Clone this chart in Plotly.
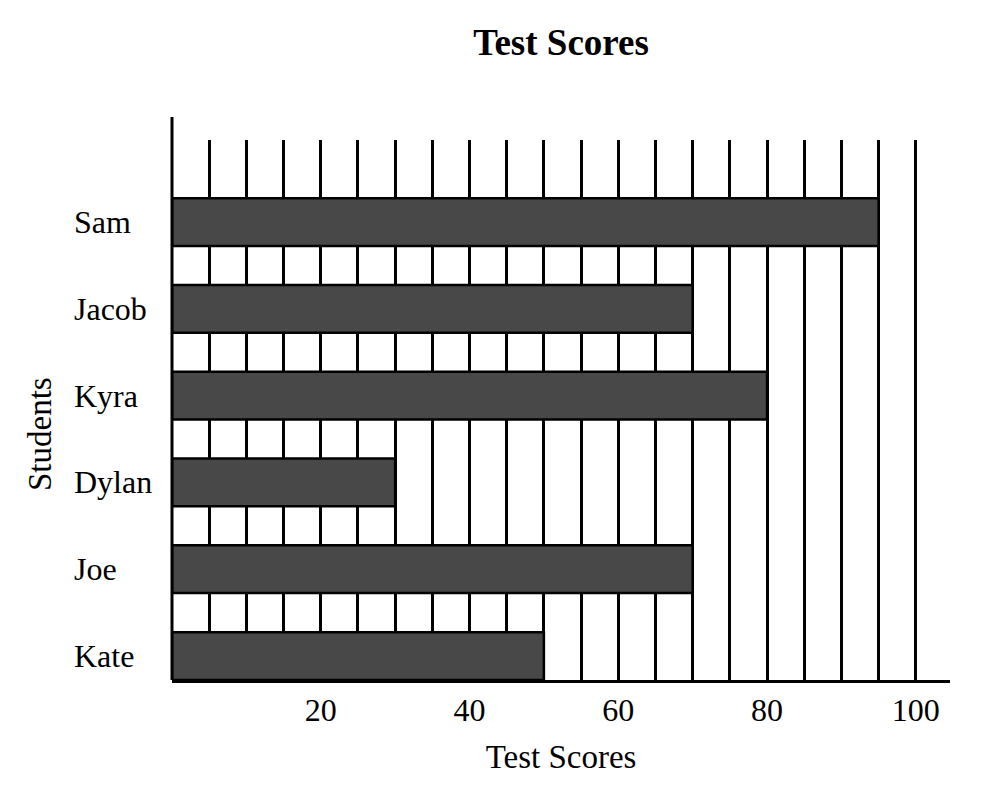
import plotly.graph_objects as go

students = ["Sam", "Jacob", "Kyra", "Dylan", "Joe", "Kate"]
scores = [95, 70, 80, 30, 70, 50]
x_tick_vals = [20, 40, 60, 80, 100]
x_tick_text = ["20", "40", "60", "80", "100"]

FONT = "Liberation Serif, Times New Roman, serif"

fig = go.Figure()
fig.add_trace(go.Bar(
    x=scores, y=students, orientation="h",
    marker=dict(color="#484848", line=dict(color="black", width=2.5)),
    showlegend=False,
))

L, R, T, B = 172, 43, 140, 110
W, H = 993, 790
pw = W - L - R
ph = H - T - B

fig.update_layout(
    width=W, height=H,
    margin=dict(l=L, r=R, t=T, b=B),
    plot_bgcolor="white", paper_bgcolor="white",
    bargap=0.45,
    font=dict(family=FONT, size=32, color="black"),
    title=dict(text="<b>Test Scores</b>", x=0.5, xref="paper", xanchor="center",
               y=1 - 42 / H, yanchor="middle", font=dict(size=37, family=FONT)),
    xaxis=dict(
        range=[0, 104.6],
        tickvals=x_tick_vals, ticktext=x_tick_text,
        showgrid=True, gridcolor="black", gridwidth=2.5,
        minor=dict(tick0=0, dtick=5, showgrid=True, gridcolor="black", gridwidth=2.5),
        showline=True, linecolor="black", linewidth=3,
        zeroline=False, ticks="",
        tickfont=dict(size=32),
        title=dict(text="Test Scores", font=dict(size=33), standoff=18),
    ),
    yaxis=dict(
        categoryorder="array", categoryarray=students[::-1],
        range=[-0.276, 5.945],
        showticklabels=False, showgrid=False, zeroline=False,
        showline=False, ticks="",
    ),
)

# y axis line extending above plot area
fig.add_shape(type="line", xref="paper", yref="paper", x0=0, x1=0,
              y0=0, y1=1 + 23 / ph, line=dict(color="black", width=3))

# left-aligned category labels
for s in students:
    fig.add_annotation(text=s, xref="paper", yref="y", x=(72 - L) / pw, y=s,
                       xanchor="left", yanchor="middle", showarrow=False,
                       font=dict(size=32, family=FONT))

fig.add_annotation(text="Students", xref="paper", yref="paper",
                   x=(40 - L) / pw, y=(H - B - 434) / ph, textangle=-90,
                   xanchor="center", yanchor="middle", showarrow=False,
                   font=dict(size=33, family=FONT))

fig.write_html("out.html")
